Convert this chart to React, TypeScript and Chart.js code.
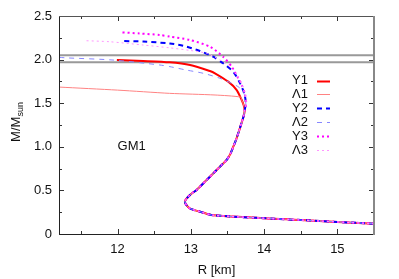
import React, { useEffect, useRef } from "react";
import { Chart, registerables } from "chart.js";

Chart.register(...registerables);

// ---- axes ----
const xRange = [11.2, 15.5];
const yRange = [0, 2.5];
const xTicks = [12, 13, 14, 15];
const xMinorTicks = [11.5, 12.5, 13.5, 14.5];
const yTicks = [0, 0.5, 1, 1.5, 2, 2.5];
const yMinorTicks = [0.25, 0.75, 1.25, 1.75, 2.25];

// ---- observational band (horizontal lines) ----
const bandR = [11.2, 15.5];
const bandUpperM = 2.05;
const bandLowerM = 1.97;

// ---- common (stable) branch shared by all curves: R [km], M/Msun ----
const commonR = [15.5, 14.5, 13.3, 13.15, 12.99, 12.94, 12.919, 12.935, 12.964, 13.02, 13.079, 13.215, 13.352, 13.42, 13.489, 13.543, 13.579, 13.616, 13.647, 13.694, 13.72, 13.735];
const commonM = [0.118, 0.16, 0.215, 0.25, 0.292, 0.33, 0.37, 0.40, 0.428, 0.47, 0.505, 0.619, 0.734, 0.791, 0.849, 0.925, 1.001, 1.078, 1.155, 1.28, 1.35, 1.42];

// ---- upper branches ----
const y1R = [13.72, 13.694, 13.626, 13.51, 13.329, 13.26, 12.99, 12.71, 12.35, 11.99];
const y1M = [1.48, 1.537, 1.651, 1.747, 1.843, 1.869, 1.938, 1.969, 1.984, 1.995];

const l1R = [13.72, 13.694, 13.68, 13.33, 12.71, 12.0, 11.2];
const l1M = [1.48, 1.537, 1.57, 1.594, 1.613, 1.65, 1.685];

const y2R = [13.75, 13.73, 13.67, 13.58, 13.44, 13.305, 13.124, 12.895, 12.714, 12.35, 12.05];
const y2M = [1.50, 1.61, 1.73, 1.86, 1.958, 2.033, 2.099, 2.159, 2.185, 2.207, 2.213];

const l2R = [13.75, 13.73, 13.66, 13.557, 13.397, 13.17, 12.94, 12.714, 12.577, 11.938, 11.3, 11.2];
const l2M = [1.50, 1.60, 1.68, 1.728, 1.786, 1.843, 1.88, 1.919, 1.938, 1.995, 2.02, 2.026];

const y3R = [13.755, 13.74, 13.69, 13.647, 13.557, 13.44, 13.26, 12.987, 12.714, 12.577, 12.3, 12.03];
const y3M = [1.50, 1.60, 1.72, 1.786, 1.919, 2.033, 2.148, 2.225, 2.263, 2.282, 2.30, 2.313];

const l3R = [13.755, 13.74, 13.69, 13.62, 13.51, 13.397, 13.215, 12.99, 12.71, 12.35, 11.89, 11.55];
const l3M = [1.50, 1.60, 1.72, 1.83, 1.94, 1.995, 2.072, 2.105, 2.135, 2.167, 2.205, 2.217];

const seriesLabels = ["Y1", "\u039B1", "Y2", "\u039B2", "Y3", "\u039B3"];
const annotationText = "GM1";
const annotationPos = [12.0, 1.0];
const xTitle = "R [km]";
const yTitleMain = "M/M";
const yTitleSub = "sun";

const FONT = "'Liberation Sans', Arial, Helvetica, sans-serif";

function pts(rs: number[], ms: number[]) {
  return rs.map((r, i) => ({ x: r, y: ms[i] }));
}
function curve(r: number[], m: number[]) {
  return pts(commonR.concat(r), commonM.concat(m));
}

const overlayPlugin = {
  id: "overlay",
  afterDraw(chart: any) {
    const { ctx, chartArea: a, scales } = chart;
    const x = scales.x;
    const y = scales.y;
    ctx.save();
    // ticks (inward, mirrored)
    ctx.strokeStyle = "#333";
    ctx.lineWidth = 1;
    ctx.setLineDash([]);
    const xt = (vals: number[], len: number) => {
      vals.forEach((v) => {
        const px = Math.round(x.getPixelForValue(v)) + 0.5;
        ctx.beginPath();
        ctx.moveTo(px, a.bottom);
        ctx.lineTo(px, a.bottom - len);
        ctx.moveTo(px, a.top);
        ctx.lineTo(px, a.top + len);
        ctx.stroke();
      });
    };
    const yt = (vals: number[], len: number) => {
      vals.forEach((v) => {
        const py = Math.round(y.getPixelForValue(v)) + 0.5;
        ctx.beginPath();
        ctx.moveTo(a.left, py);
        ctx.lineTo(a.left + len, py);
        ctx.moveTo(a.right, py);
        ctx.lineTo(a.right - len, py);
        ctx.stroke();
      });
    };
    xt(xTicks, 5);
    xt(xMinorTicks, 3);
    yt(yTicks, 5);
    yt(yMinorTicks, 3);

    // frame
    ctx.strokeStyle = "#222";
    ctx.beginPath();
    ctx.moveTo(a.left + 0.5, a.top);
    ctx.lineTo(a.left + 0.5, a.bottom + 0.5);
    ctx.lineTo(a.right, a.bottom + 0.5);
    ctx.stroke();
    ctx.strokeStyle = "#555";
    ctx.beginPath();
    ctx.moveTo(a.left, a.top + 0.5);
    ctx.lineTo(a.right, a.top + 0.5);
    ctx.stroke();
    ctx.strokeStyle = "#888";
    ctx.lineWidth = 2;
    ctx.beginPath();
    ctx.moveTo(a.right, a.top);
    ctx.lineTo(a.right, a.bottom + 1);
    ctx.stroke();

    // legend
    ctx.font = `13px ${FONT}`;
    ctx.fillStyle = "#111";
    ctx.textAlign = "right";
    ctx.textBaseline = "middle";
    const legendSets = chart.data.datasets.filter((d: any) => d.label);
    legendSets.forEach((d: any, i: number) => {
      const ly = 80.5 + i * 13.9;
      ctx.fillText(d.label, 308, ly);
      ctx.strokeStyle = d.borderColor;
      ctx.lineWidth = d.borderWidth;
      ctx.setLineDash(d.borderDash || []);
      ctx.beginPath();
      ctx.moveTo(317, Math.round(ly) + 0.5);
      ctx.lineTo(330, Math.round(ly) + 0.5);
      ctx.stroke();
    });
    ctx.setLineDash([]);

    // annotation
    ctx.textAlign = "left";
    ctx.fillStyle = "#111";
    ctx.fillText(annotationText, x.getPixelForValue(annotationPos[0]), y.getPixelForValue(annotationPos[1]));

    // x title
    ctx.textAlign = "center";
    ctx.fillText(xTitle, (a.left + a.right) / 2, 270);

    // y title with subscript
    ctx.font = `13px ${FONT}`;
    const wMain = ctx.measureText(yTitleMain).width;
    ctx.font = `9px ${FONT}`;
    const wSub = ctx.measureText(yTitleSub).width;
    const cy = (a.top + a.bottom) / 2 - 3;
    ctx.translate(20, cy + (wMain + wSub) / 2);
    ctx.rotate(-Math.PI / 2);
    ctx.textAlign = "left";
    ctx.textBaseline = "alphabetic";
    ctx.font = `13px ${FONT}`;
    ctx.fillText(yTitleMain, 0, 0);
    ctx.font = `9px ${FONT}`;
    ctx.fillText(yTitleSub, wMain, 3);
    ctx.restore();
  },
};

export default function App() {
  const ref = useRef<HTMLCanvasElement | null>(null);
  useEffect(() => {
    if (!ref.current) return;
    const line = (label: string, data: any[], color: string, width: number, dash: number[], order: number, tension = 0.25) => ({
      label,
      data,
      borderColor: color,
      backgroundColor: color,
      borderWidth: width,
      borderDash: dash,
      showLine: true,
      pointRadius: 0,
      tension,
      fill: false,
      order,
    });
    const chart = new Chart(ref.current, {
      type: "scatter",
      data: {
        datasets: [
          line(seriesLabels[0], curve(y1R, y1M), "#ff0000", 2, [], 6),
          line(seriesLabels[1], curve(l1R, l1M), "rgb(255,130,130)", 1, [], 5),
          line(seriesLabels[2], curve(y2R, y2M), "#0000ff", 2, [5, 4], 4),
          line(seriesLabels[3], curve(l2R, l2M), "rgb(135,135,255)", 1, [5, 5], 3),
          line(seriesLabels[4], curve(y3R, y3M), "#ff00ff", 2, [2, 3], 2),
          line(seriesLabels[5], curve(l3R, l3M), "rgb(255,150,255)", 1, [2, 3], 1),
          line("", pts(bandR, [bandUpperM, bandUpperM]), "#999999", 2, [], 7, 0),
          line("", pts(bandR, [bandLowerM, bandLowerM]), "#999999", 2, [], 7, 0),
        ],
      },
      options: {
        responsive: false,
        animation: false,
        devicePixelRatio: 1,
        layout: { padding: { top: 16, right: 25, left: 0, bottom: 0 } },
        plugins: { legend: { display: false }, tooltip: { enabled: false }, title: { display: false } },
        scales: {
          x: {
            type: "linear",
            min: xRange[0],
            max: xRange[1],
            grid: { display: false, drawTicks: false },
            border: { display: false },
            ticks: { font: { family: FONT, size: 13 }, color: "#111", padding: 8, maxRotation: 0, autoSkip: false },
            afterBuildTicks: (s: any) => {
              s.ticks = xTicks.map((v) => ({ value: v }));
            },
            afterFit: (s: any) => {
              s.height = 45;
            },
          },
          y: {
            type: "linear",
            min: yRange[0],
            max: yRange[1],
            grid: { display: false, drawTicks: false },
            border: { display: false },
            ticks: { font: { family: FONT, size: 13 }, color: "#111", padding: 7, autoSkip: false },
            afterBuildTicks: (s: any) => {
              s.ticks = yTicks.map((v) => ({ value: v }));
            },
            afterFit: (s: any) => {
              s.width = 59;
            },
          },
        },
      } as any,
      plugins: [overlayPlugin],
    });
    return () => chart.destroy();
  }, []);
  return (
    <div style={{ position: "fixed", left: 0, top: 0, width: 399, height: 279, background: "#fff" }}>
      <canvas ref={ref} width={399} height={279} style={{ display: "block", width: 399, height: 279 }} />
    </div>
  );
}
